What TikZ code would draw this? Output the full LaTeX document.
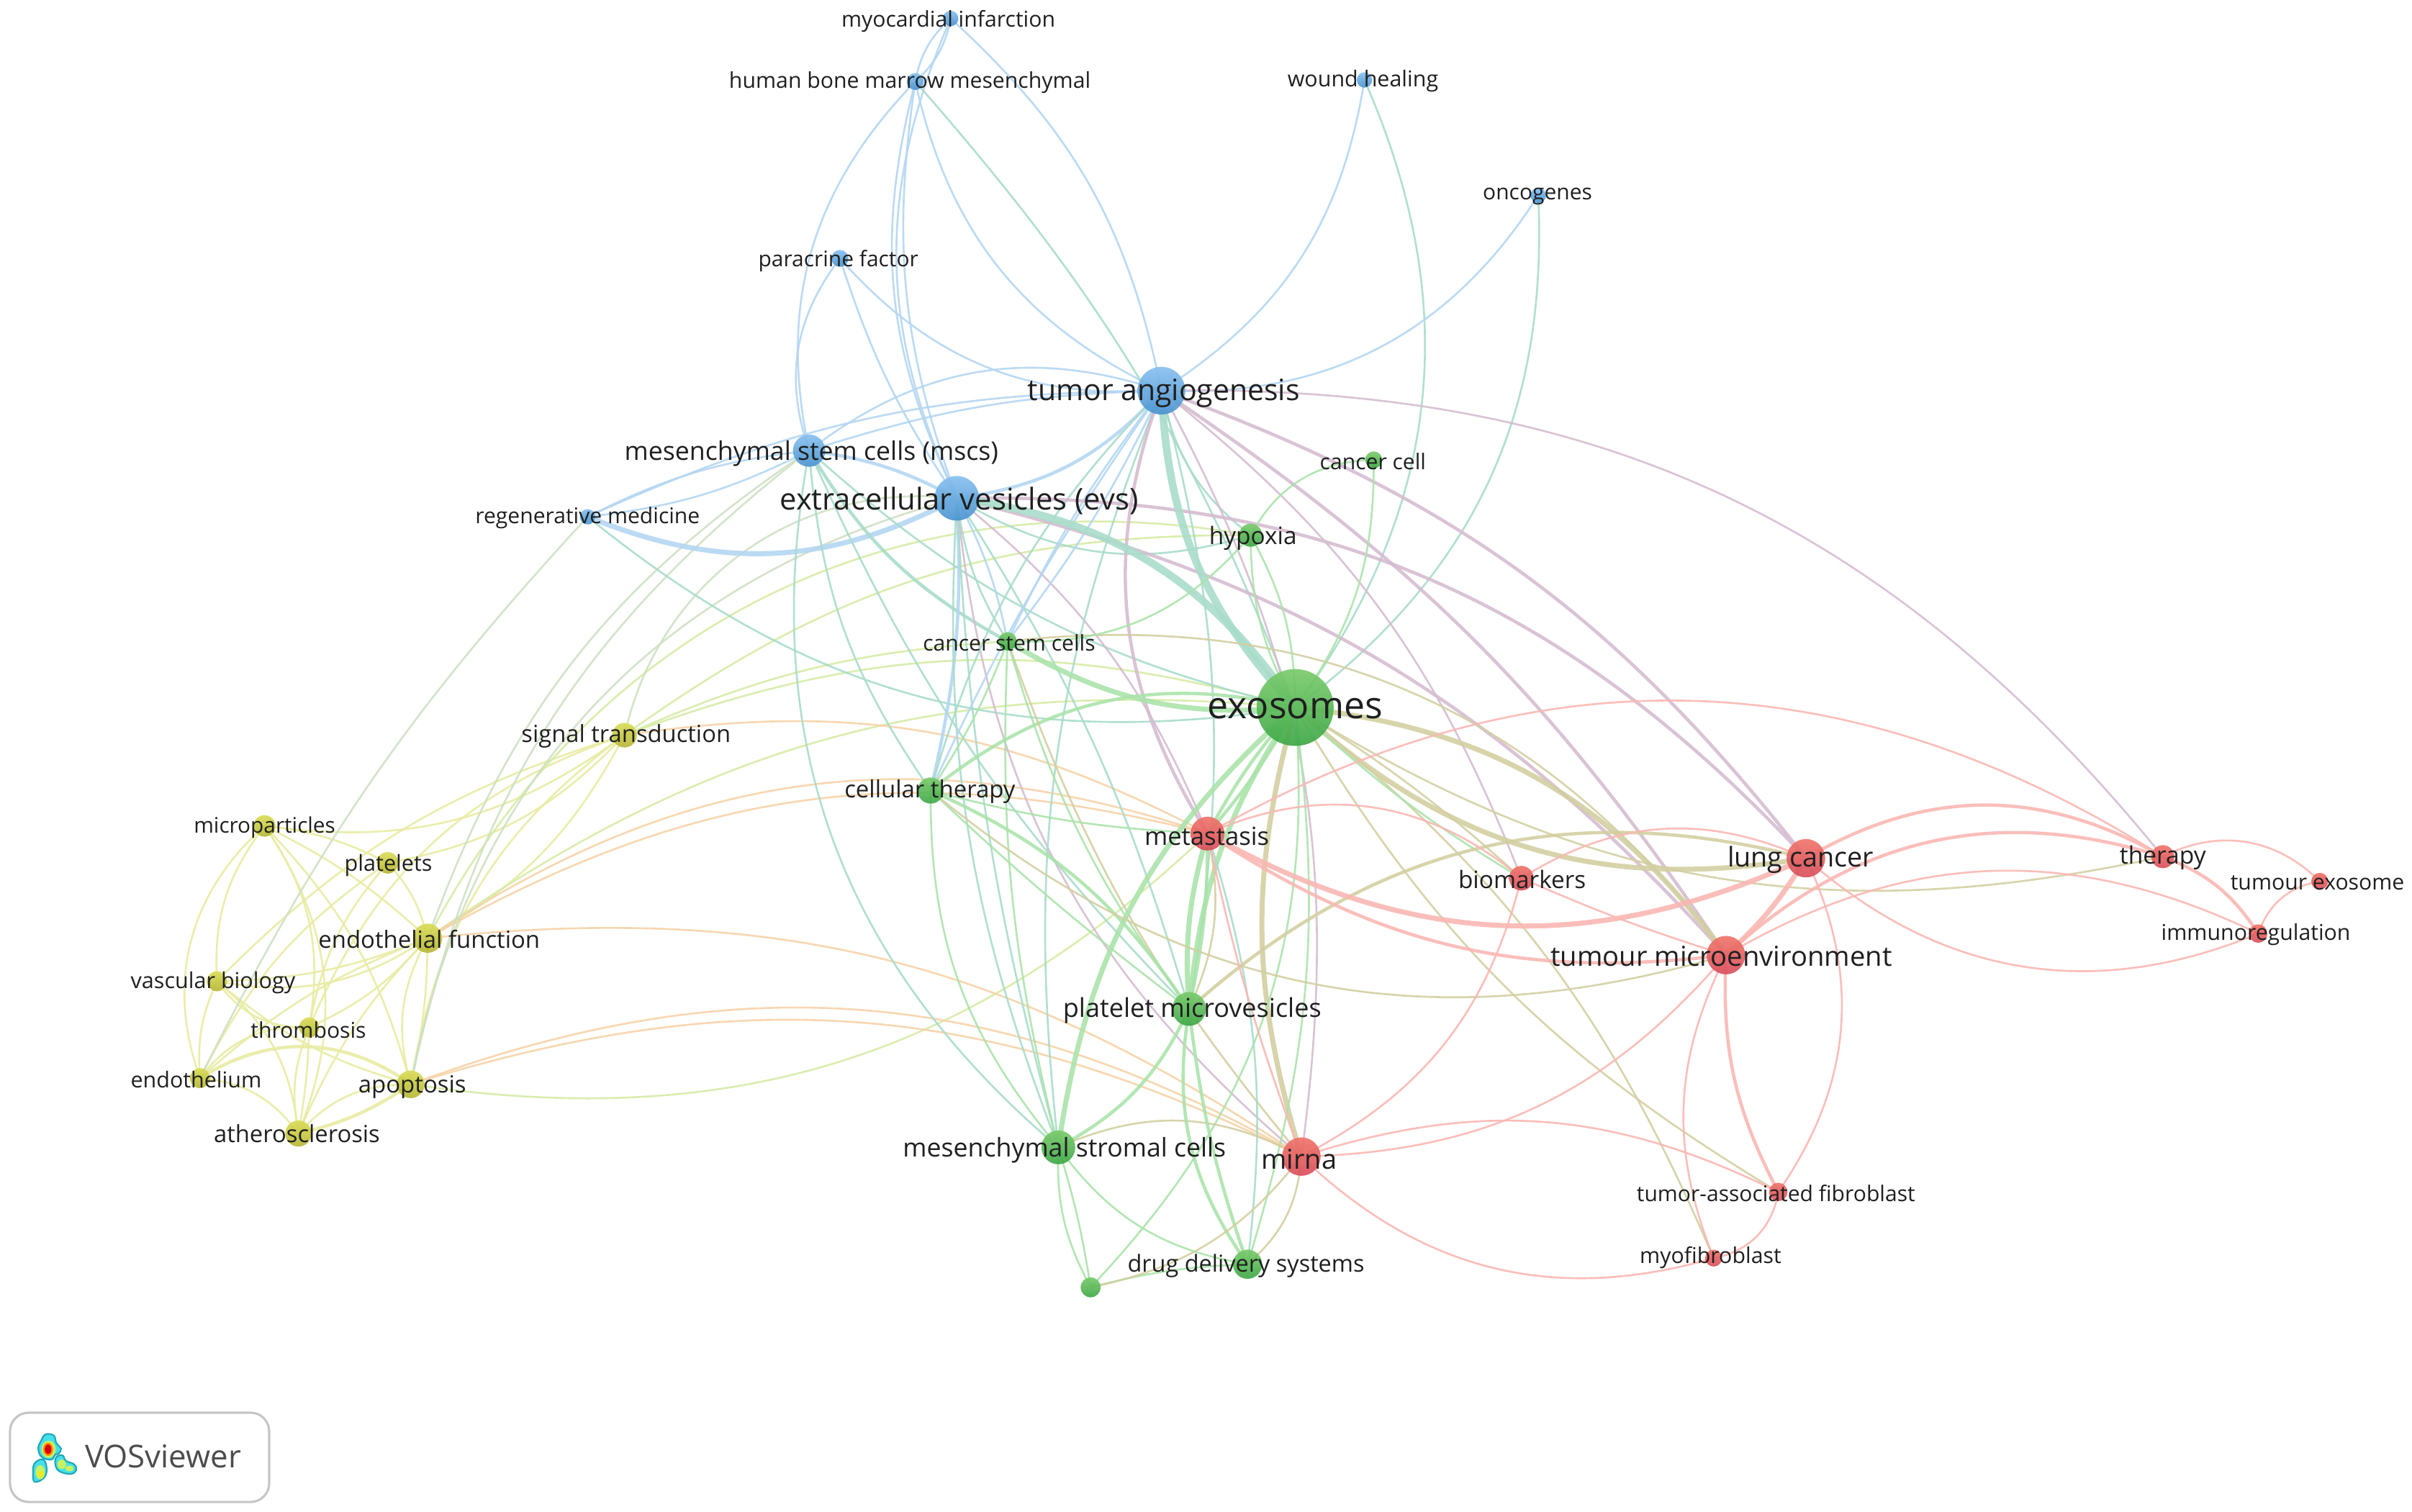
\documentclass[tikz,border=0pt]{standalone}
\usepackage{fontspec}
\usepackage{graphicx}
\setmainfont{Open Sans}
\pgfdeclarelayer{edgelayer}
\pgfsetlayers{edgelayer,main}
\definecolor{cB}{HTML}{B4D6F2}
\definecolor{cG}{HTML}{ABE3AB}
\definecolor{cR}{HTML}{FAB7B2}
\definecolor{cY}{HTML}{E8EBA2}
\definecolor{cBR}{HTML}{D5BCD0}
\definecolor{cGB}{HTML}{A9DCCB}
\definecolor{cGR}{HTML}{D3CFA2}
\definecolor{cYR}{HTML}{F6D3A8}
\definecolor{cYB}{HTML}{CFE0C4}
\definecolor{cYG}{HTML}{D6EBA6}
\definecolor{cdB1}{HTML}{88C0F0}\definecolor{cdB2}{HTML}{4A93D0}
\definecolor{cdG1}{HTML}{7ACB6C}\definecolor{cdG2}{HTML}{3DA746}
\definecolor{cdR1}{HTML}{F0756A}\definecolor{cdR2}{HTML}{D84F5C}
\definecolor{cdY1}{HTML}{DADC58}\definecolor{cdY2}{HTML}{B5B734}
\tikzset{
  edgeline/.style={line width=0.75pt,opacity=0.9,line cap=round},
  w2/.style={line width=1.3pt},
  w3/.style={line width=2pt},
  w4/.style={line width=3pt},
  eB/.style={draw=cB},eG/.style={draw=cG},eR/.style={draw=cR},eY/.style={draw=cY},
  eBR/.style={draw=cBR},eGB/.style={draw=cGB},eGR/.style={draw=cGR},eYR/.style={draw=cYR},
  eYB/.style={draw=cYB},eYG/.style={draw=cYG},
  dot/.style={circle,inner sep=0pt,draw=none,opacity=0.92},
  dB/.style={dot,top color=cdB1,bottom color=cdB2},
  dG/.style={dot,top color=cdG1,bottom color=cdG2},
  dR/.style={dot,top color=cdR1,bottom color=cdR2},
  dY/.style={dot,top color=cdY1,bottom color=cdY2},
  lab/.style={inner sep=0pt,text=black!88,yshift=0.04cm},
}
\newlength\lablen
\newcommand\NN[5]{\node[#5,minimum size={2*#4*0.021371cm}] (#1) at (#2,#3) {};}
\newcommand\LL[5]{\pgfmathsetlength\lablen{#4*0.021371cm}\node[lab,yshift=-0.08cm] (#1-l) at (#2,#3) {\resizebox{\lablen}{!}{#5}};}
\newcommand\EG[4][]{\draw[edgeline,#1] (#2.center) to[bend left=#4] (#3.center);}
\begin{document}
\begin{tikzpicture}[x=0.021371cm,y=-0.021373cm]
\useasboundingbox (0,0) rectangle (1568,983);
% nodes
\NN{myo}{618}{12}{5}{dB}
\NN{hbm}{595}{53}{5.5}{dB}
\NN{wound}{887}{52}{5}{dB}
\NN{onco}{1000}{127}{5}{dB}
\NN{para}{546}{168}{5.5}{dB}
\NN{ta}{755}{254}{15.5}{dB}
\NN{mscs}{526}{293}{10.5}{dB}
\NN{evs}{622}{324}{14.5}{dB}
\NN{regen}{382}{336}{5}{dB}
\NN{ccell}{893}{299}{5.5}{dG}
\NN{hyp}{813}{348}{7.5}{dG}
\NN{csc}{655}{417}{6}{dG}
\NN{exo}{842}{460}{25}{dG}
\NN{sig}{406}{478}{8}{dY}
\NN{cell}{605}{514}{8.5}{dG}
\NN{meta}{785}{542}{11}{dR}
\NN{bio}{989}{571}{8}{dR}
\NN{lung}{1174}{558}{12.5}{dR}
\NN{ther}{1406}{557}{7.5}{dR}
\NN{texo}{1508}{573}{5.5}{dR}
\NN{imm}{1468}{607}{6}{dR}
\NN{tme}{1122}{621}{12.5}{dR}
\NN{plm}{773}{656}{11}{dG}
\NN{msc}{688}{746}{11}{dG}
\NN{mir}{846}{752}{12.5}{dR}
\NN{taf}{1156}{775}{6}{dR}
\NN{myof}{1114}{818}{5.5}{dR}
\NN{drug}{811}{822}{9.5}{dG}
\NN{gdot}{709}{837}{6.5}{dG}
\NN{micro}{172}{537}{7}{dY}
\NN{plat}{252}{561}{7}{dY}
\NN{endf}{278}{610}{9.5}{dY}
\NN{vasc}{141}{638}{6.5}{dY}
\NN{thr}{201}{668}{6.5}{dY}
\NN{endo}{130}{701}{6.5}{dY}
\NN{apo}{267}{705}{9}{dY}
\NN{ath}{194}{737}{8.5}{dY}
% labels
\LL{myo}{616.5}{12}{139}{myocardial infarction}
\LL{hbm}{591.5}{52}{235}{human bone marrow mesenchymal}
\LL{wound}{886}{51}{98}{wound healing}
\LL{onco}{999.5}{126}{71}{oncogenes}
\LL{para}{545}{168}{104}{paracrine factor}
\LL{ta}{756.5}{254}{177}{tumor angiogenesis}
\LL{mscs}{527.5}{293}{243}{mesenchymal stem cells (mscs)}
\LL{evs}{623.5}{324}{233}{extracellular vesicles (evs)}
\LL{regen}{382}{335}{146}{regenerative medicine}
\LL{ccell}{892.5}{298}{69}{cancer cell}
\LL{hyp}{814.5}{348}{57}{hypoxia}
\LL{csc}{656}{416}{112}{cancer stem cells}
\LL{exo}{842}{459}{114}{exosomes}
\LL{sig}{407}{477}{136}{signal transduction}
\LL{cell}{604.5}{513}{111}{cellular therapy}
\LL{meta}{784.5}{542}{81}{metastasis}
\LL{bio}{989.5}{570}{83}{biomarkers}
\LL{lung}{1170.5}{557}{95}{lung cancer}
\LL{ther}{1406}{556}{56}{therapy}
\LL{texo}{1506.5}{572}{113}{tumour exosome}
\LL{imm}{1466.5}{606}{123}{immunoregulation}
\LL{tme}{1119}{620}{222}{tumour microenvironment}
\LL{plm}{775}{655}{168}{platelet microvesicles}
\LL{msc}{692}{746}{210}{mesenchymal stromal cells}
\LL{mir}{844.5}{752}{49}{mirna}
\LL{taf}{1154.5}{774}{181}{tumor-associated fibroblast}
\LL{myof}{1112}{816}{92}{myofibroblast}
\LL{drug}{810}{821}{154}{drug delivery systems}
\LL{micro}{172}{536}{92}{microparticles}
\LL{plat}{252.5}{561}{57}{platelets}
\LL{endf}{279}{609}{144}{endothelial function}
\LL{vasc}{138.5}{637}{107}{vascular biology}
\LL{thr}{200.5}{668}{75}{thrombosis}
\LL{endo}{127.5}{700}{85}{endothelium}
\LL{apo}{268}{705}{70}{apoptosis}
\LL{ath}{193}{735}{108}{atherosclerosis}
% edges
\begin{pgfonlayer}{edgelayer}
% yellow cluster
\EG[eY]{micro}{endo}{-34}
\EG[eY]{micro}{vasc}{-20}
\EG[eY]{micro}{ath}{28}
\EG[eY]{micro}{thr}{22}
\EG[eY]{micro}{apo}{14}
\EG[eY]{micro}{plat}{10}
\EG[eY]{micro}{endf}{8}
\EG[eY]{micro}{sig}{-22}
\EG[eY]{plat}{endf}{14}
\EG[eY]{plat}{thr}{-15}
\EG[eY]{plat}{endo}{-14}
\EG[eY]{plat}{sig}{-18}
\EG[eY]{endf}{apo}{-22}
\EG[eY]{endf}{apo}{6}
\EG[eY]{endf}{vasc}{10}
\EG[eY]{endf}{vasc}{22}
\EG[eY]{endf}{thr}{12}
\EG[eY]{endf}{endo}{-10}
\EG[eY]{endf}{ath}{-10}
\EG[eY]{vasc}{thr}{-28}
\EG[eY]{vasc}{apo}{-12}
\EG[eY]{vasc}{endo}{-14}
\EG[eY]{vasc}{ath}{22}
\EG[eY]{thr}{endo}{-28}
\EG[eY]{thr}{ath}{-16}
\EG[eY]{thr}{ath}{4}
\EG[eY,w2]{endo}{apo}{34}
\EG[eY]{endo}{ath}{24}
\EG[eY,w2]{ath}{apo}{-10}
\EG[eY]{ath}{apo}{24}
\EG[eY]{sig}{endf}{16}
\EG[eY]{sig}{vasc}{-14}
\EG[eY]{sig}{thr}{-24}
\EG[eY]{sig}{apo}{-22}
\EG[eYG]{hyp}{endf}{-36}
\EG[eYG]{sig}{exo}{18}
\EG[eYG]{endf}{exo}{20}
\EG[eYG]{sig}{hyp}{18}
\EG[eYG]{apo}{meta}{-26}
\EG[eYG]{sig}{csc}{10}
% yellow-orange
\EG[eYR]{sig}{meta}{18}
\EG[eYR]{endf}{meta}{26}
\EG[eYR]{endf}{meta}{22}
\EG[eYR]{endf}{mir}{20}
\EG[eYR]{apo}{mir}{25}
\EG[eYR]{apo}{mir}{22}
% pale yellow-blue
\EG[eYB]{regen}{endo}{-8}
\EG[eYB]{evs}{sig}{-42}
\EG[eYB]{mscs}{endf}{-18}
\EG[eYB]{evs}{apo}{-32}
\EG[eYB]{mscs}{apo}{-20}
% blue cluster
\EG[eB]{myo}{hbm}{-18}
\EG[eB]{myo}{hbm}{18}
\EG[eB]{myo}{ta}{18}
\EG[eB]{myo}{evs}{-24}
\EG[eB]{hbm}{ta}{-26}
\EG[eB]{hbm}{mscs}{-28}
\EG[eB]{hbm}{evs}{-20}
\EG[eB]{hbm}{evs}{-14}
\EG[eGB]{hbm}{exo}{10}
\EG[eB]{para}{ta}{-26}
\EG[eB]{para}{mscs}{-28}
\EG[eB]{para}{evs}{-8}
\EG[eB]{wound}{ta}{24}
\EG[eGB]{wound}{exo}{30}
\EG[eB]{onco}{ta}{30}
\EG[eGB]{onco}{exo}{28}
\EG[eB]{ta}{mscs}{-28}
\EG[eB]{ta}{mscs}{-8}
\EG[eB]{ta}{regen}{-12}
\EG[eB,w2]{ta}{evs}{20}
\EG[eB,w2]{evs}{mscs}{-10}
\EG[eB,w3]{evs}{regen}{25}
\EG[eB]{mscs}{regen}{10}
\EG[eB]{mscs}{regen}{-10}
\EG[eGB]{regen}{exo}{-24}
\EG[eGB,w2]{mscs}{csc}{-15}
\EG[eGB]{mscs}{exo}{-14}
\EG[eGB]{mscs}{msc}{-30}
\EG[eGB]{mscs}{cell}{-15}
\EG[eGB]{mscs}{plm}{-10}
\EG[eB]{evs}{csc}{8}
\EG[eB,w2]{evs}{cell}{8}
\EG[eBR]{evs}{mir}{-22}
\EG[eGB]{evs}{msc}{-12}
\EG[eGB]{evs}{msc}{-6}
\EG[eGB]{evs}{hyp}{-24}
\EG[eGB]{evs}{csc}{-12}
\EG[eBR]{evs}{meta}{14}
\EG[eGB]{evs}{plm}{8}
\EG[eGB]{ta}{hyp}{-20}
\EG[eB]{ta}{csc}{-6}
\EG[eB]{ta}{csc}{6}
\EG[eB]{ta}{cell}{-5}
\EG[eGB]{ta}{cell}{-14}
\EG[eGB]{ta}{plm}{12}
\EG[eGB]{ta}{msc}{-14}
\EG[eBR]{ta}{bio}{15}
\EG[eBR]{ta}{mir}{18}
\EG[eBR]{ta}{ther}{26}
\EG[eBR,w2]{ta}{lung}{16}
\EG[eBR,w2]{ta}{tme}{11}
\EG[eBR,w2]{evs}{lung}{24}
\EG[eBR,w2]{evs}{tme}{17}
\EG[eBR,w2]{ta}{meta}{-26}
\EG[eGB,w4]{evs}{exo}{24}
\EG[eGB,w4]{ta}{exo}{-20}
% green cluster
\EG[eG,w3]{csc}{exo}{-18}
\EG[eG,w2]{cell}{exo}{26}
\EG[eGR]{csc}{tme}{30}
\EG[eGR]{csc}{mir}{-10}
\EG[eG]{csc}{cell}{6}
\EG[eG]{csc}{plm}{-10}
\EG[eG]{csc}{msc}{-8}
\EG[eG]{hyp}{csc}{26}
\EG[eG]{hyp}{ccell}{30}
\EG[eG]{ccell}{exo}{18}
\EG[eG]{hyp}{exo}{14}
\EG[eG]{hyp}{exo}{-14}
\EG[eG,w3]{exo}{msc}{-20}
\EG[eG,w3]{exo}{plm}{-14}
\EG[eG,w2]{exo}{meta}{6}
\EG[eG,w2]{exo}{meta}{-6}
\EG[eG,w3]{meta}{plm}{-10}
\EG[eG,w2]{meta}{plm}{6}
\EG[eGR,w3]{exo}{mir}{-16}
\EG[eG]{exo}{drug}{12}
\EG[eG]{exo}{gdot}{24}
\EG[eGB]{meta}{drug}{12}
\EG[eG]{cell}{msc}{-20}
\EG[eG,w2]{cell}{plm}{16}
\EG[eG]{cell}{plm}{-3}
\EG[eG]{cell}{meta}{-6}
\EG[eG,w2]{msc}{plm}{-18}
\EG[eGR]{msc}{mir}{26}
\EG[eG]{msc}{drug}{-22}
\EG[eG]{msc}{gdot}{-15}
\EG[eG]{msc}{gdot}{4}
\EG[eG,w2]{plm}{drug}{-6}
\EG[eG,w2]{plm}{drug}{-22}
\EG[eG]{drug}{gdot}{-6}
\EG[eGR]{mir}{gdot}{20}
\EG[eGR]{mir}{drug}{22}
\EG[eGR]{meta}{plm}{18}
% olive
\EG[eGR,w3]{exo}{tme}{24}
\EG[eGR,w3]{exo}{lung}{-26}
\EG[eGR]{exo}{ther}{-22}
\EG[eGR]{exo}{taf}{-14}
\EG[eGR]{exo}{myof}{14}
\EG[eGR]{exo}{bio}{5}
\EG[eG]{exo}{bio}{-6}
\EG[eGR,w2]{plm}{lung}{28}
\EG[eGR]{cell}{tme}{-28}
% red cluster
\EG[eR,w3]{meta}{lung}{-27}
\EG[eR,w2]{meta}{tme}{-20}
\EG[eR]{meta}{bio}{32}
\EG[eR]{meta}{ther}{31}
\EG[eR]{mir}{bio}{-24}
\EG[eR]{mir}{tme}{-24}
\EG[eR]{mir}{taf}{22}
\EG[eR]{mir}{myof}{-30}
\EG[eR]{mir}{meta}{4}
\EG[eR]{bio}{lung}{28}
\EG[eR]{bio}{tme}{-3}
\EG[eR,w3]{tme}{lung}{-8}
\EG[eR,w2]{tme}{ther}{30}
\EG[eR]{tme}{imm}{28}
\EG[eR,w2]{lung}{ther}{30}
\EG[eR]{lung}{imm}{-32}
\EG[eR,w2]{tme}{taf}{-15}
\EG[eR]{tme}{myof}{-24}
\EG[eR]{lung}{taf}{30}
\EG[eR]{myof}{taf}{-35}
\EG[eR]{ther}{texo}{36}
\EG[eR,w2]{ther}{imm}{18}
\EG[eR]{texo}{imm}{-30}
\end{pgfonlayer}
% logo
\definecolor{logoC}{HTML}{45E0EA}\definecolor{logoT}{HTML}{1FA5B8}
\definecolor{logoY}{HTML}{C8F060}
\draw[gray!45,line width=0.9pt,fill=white,rounded corners=2.6mm] (6.5,918.5) rectangle (175,976.6);
\begin{scope}[shift={(0,889.1)},x=0.003334cm,y=-0.003334cm]
\fill[logoC,draw=logoT,line width=0.6pt] plot[smooth cycle,tension=0.7] coordinates {(190,280)(225,285)(235,315)(255,340)(245,360)(230,365)(215,385)(175,375)(160,340)(170,310)};
\fill[logoY] (203,342) ellipse (30 and 36);
\fill[orange!90!yellow] (201,342) ellipse (21 and 28);
\fill[red!85!black] (201,342) ellipse (14 and 20);
\fill[logoC,draw=logoT,line width=0.6pt] plot[smooth cycle,tension=0.7] coordinates {(145,400)(180,385)(195,420)(185,460)(145,478)(138,440)};
\fill[logoY] (168,438) ellipse (20 and 30);
\fill[yellow!90!orange] (170,445) ellipse (10 and 12);
\fill[logoC,draw=logoT,line width=0.6pt] plot[smooth cycle,tension=0.7] coordinates {(235,375)(262,368)(275,390)(310,405)(318,430)(295,445)(250,435)(232,410)};
\fill[logoY] (258,405) ellipse (18 and 20);
\fill[logoY] (290,422) ellipse (18 and 12);
\end{scope}
\pgfmathsetlength\lablen{101.5*0.021371cm}
\node[inner sep=0pt,text=black!70] (vos) at (106,947) {\resizebox{\lablen}{!}{VOSviewer}};
\end{tikzpicture}
\end{document}
